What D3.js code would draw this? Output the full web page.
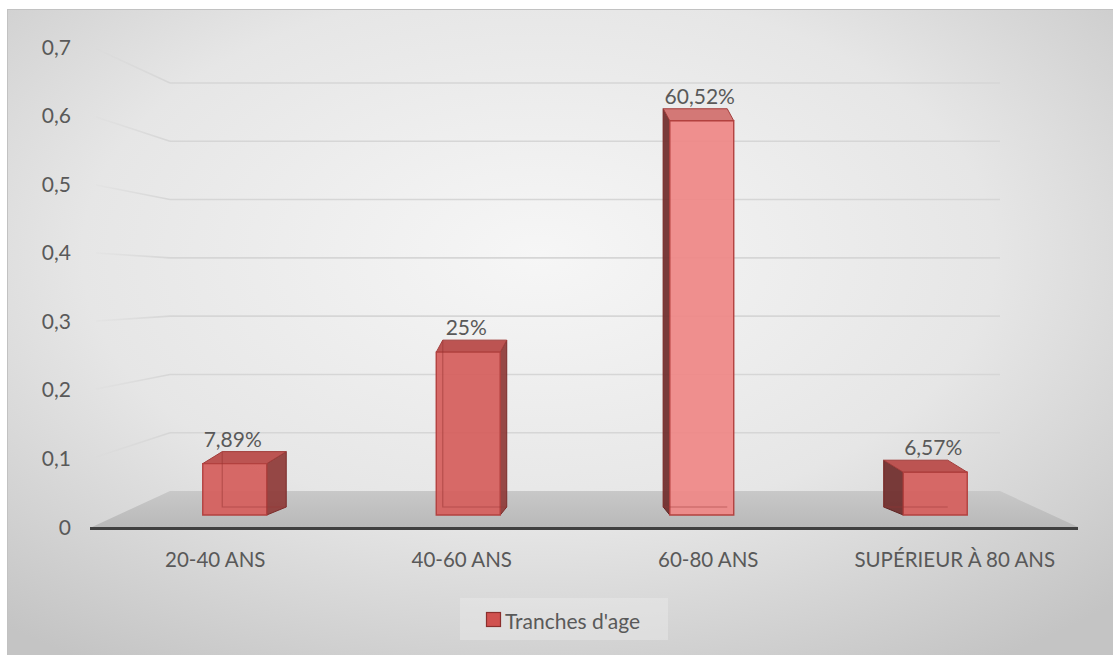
<!DOCTYPE html>
<html>
<head>
<meta charset="utf-8">
<script src="https://cdn.jsdelivr.net/npm/d3@7"></script>
<style>
  html, body { margin: 0; padding: 0; background: #ffffff; }
  svg { display: block; font-family: Lato, "Open Sans", sans-serif; }
</style>
</head>
<body>
<svg id="chart" width="1113" height="655"></svg>
<script>
// ---- data ----
const categories = ["20-40 ANS", "40-60 ANS", "60-80 ANS", "SUPÉRIEUR À 80 ANS"];
const values = [0.0789, 0.25, 0.6052, 0.0657];
const yTicks = [0, 0.1, 0.2, 0.3, 0.4, 0.5, 0.6, 0.7];
const seriesName = "Tranches d'age";

// ---- setup ----
const svg = d3.select("#chart");
const W = 1113, H = 655;
const fr = d3.formatLocale({decimal: ",", thousands: " ", grouping: [3], currency: ["", " €"]});
const fmtTick = fr.format(".1~f");
const fmtPct = fr.format(".2~%");

const defs = svg.append("defs");
const bg = defs.append("radialGradient").attr("id", "bg")
  .attr("cx", "48%").attr("cy", "38%").attr("r", "75%");
bg.append("stop").attr("offset", "0%").attr("stop-color", "#f6f6f6");
bg.append("stop").attr("offset", "55%").attr("stop-color", "#e6e6e6");
bg.append("stop").attr("offset", "100%").attr("stop-color", "#c4c4c4");

const floorGrad = defs.append("linearGradient").attr("id", "floorG")
  .attr("x1", 0).attr("y1", 0).attr("x2", 0).attr("y2", 1);
floorGrad.append("stop").attr("offset", "0%").attr("stop-color", "#c8c8c8");
floorGrad.append("stop").attr("offset", "100%").attr("stop-color", "#b9b9b9");

const sideGrad = defs.append("linearGradient").attr("id", "sideG")
  .attr("gradientUnits", "userSpaceOnUse")
  .attr("x1", 92).attr("y1", 0).attr("x2", 170).attr("y2", 0);
sideGrad.append("stop").attr("offset", "0%").attr("stop-color", "#d6d6d6").attr("stop-opacity", 0.1);
sideGrad.append("stop").attr("offset", "100%").attr("stop-color", "#d6d6d6").attr("stop-opacity", 1);

// chart area
svg.append("rect").attr("x", 7.5).attr("y", 9.5).attr("width", W - 7).attr("height", H - 9)
  .attr("fill", "url(#bg)").attr("stroke", "#c2c2c2").attr("stroke-width", 1);

// ---- 3D projection built from scales ----
const maxV = 0.7;
const xFront = d3.scaleLinear().domain([0, 1]).range([92, 1078]);
const xBack  = d3.scaleLinear().domain([0, 1]).range([170, 1000]);
const yFront = d3.scaleLinear().domain([0, maxV]).range([527, 47]);
const yBack  = d3.scaleLinear().domain([0, maxV]).range([491, 83]);
function P(u, v, z) {
  return [xFront(u) * (1 - z) + xBack(u) * z, yFront(v) * (1 - z) + yBack(v) * z];
}
const band = d3.scaleBand().domain(categories).range([0, 1]).paddingInner(0.726).paddingOuter(0.363);
const catPos = d3.scaleBand().domain(categories).range([0, 1]);

// ---- walls / gridlines ----
const grid = svg.append("g");
yTicks.filter(v => v > 0).forEach(v => {
  const a = P(0, v, 1), b = P(1, v, 1), f = P(0, v, 0);
  grid.append("line").attr("x1", a[0]).attr("y1", a[1]).attr("x2", b[0]).attr("y2", b[1])
    .attr("stroke", "#d6d6d6").attr("stroke-width", 1.6);
  grid.append("line").attr("x1", f[0] + 4).attr("y1", f[1] + (a[1] - f[1]) * 4 / (a[0] - f[0])).attr("x2", a[0]).attr("y2", a[1])
    .attr("stroke", "url(#sideG)").attr("stroke-width", 1.6);
});

// floor
const floorPts = [P(0, 0, 0), P(1, 0, 0), P(1, 0, 1), P(0, 0, 1)];
svg.append("path").attr("d", "M" + floorPts.map(p => p.join(",")).join("L") + "Z")
  .attr("fill", "url(#floorG)");
svg.append("line")
  .attr("x1", P(0, 0, 0)[0] - 2).attr("y1", P(0, 0, 0)[1] + 1.5)
  .attr("x2", P(1, 0, 0)[0]).attr("y2", P(1, 0, 0)[1] + 1.5)
  .attr("stroke", "#404040").attr("stroke-width", 3);

// ---- bars ----
const z0 = 1 / 3, z1 = 2 / 3;
const dyTop = -12, dyBottom = -8;
const frontColor = d3.scaleLinear().domain([0.3, 0.6]).range(["#d55f5d", "#ef8886"]).clamp(true);
const barsG = svg.append("g");
const poly = pts => "M" + pts.map(p => p[0].toFixed(2) + "," + p[1].toFixed(2)).join("L") + "Z";

categories.forEach((c, i) => {
  const v = values[i];
  const uL = band(c), uR = band(c) + band.bandwidth();
  const bl = P(uL, 0, z0), br = P(uR, 0, z0);
  const yTopF = P(uL, v, z0)[1];
  const fl = [bl[0], yTopF], frT = [br[0], yTopF];
  const dx = P((uL + uR) / 2, 0, z1)[0] - P((uL + uR) / 2, 0, z0)[0];
  const bBL = [bl[0] + dx, bl[1] + dyBottom], bBR = [br[0] + dx, br[1] + dyBottom];
  const bTL = [fl[0] + dx, fl[1] + dyTop], bTR = [frT[0] + dx, frT[1] + dyTop];
  const g = barsG.append("g");
  // side face
  if (dx > 0) {
    g.append("path").attr("d", poly([frT, br, bBR, bTR])).attr("fill", "#8e3937").attr("fill-opacity", 0.92)
      .attr("stroke", "#7a2c2a").attr("stroke-width", 1);
  } else {
    g.append("path").attr("d", poly([fl, bl, bBL, bTL])).attr("fill", "#6f2b2a").attr("fill-opacity", 0.92)
      .attr("stroke", "#5e2423").attr("stroke-width", 1);
  }
  // top face
  g.append("path").attr("d", poly([fl, frT, bTR, bTL])).attr("fill", d3.color(frontColor(v)).darker(0.35))
    .attr("stroke", "#a23e3c").attr("stroke-width", 1);
  // front face
  g.append("path").attr("d", poly([fl, frT, br, bl])).attr("fill", frontColor(v)).attr("fill-opacity", 0.93)
    .attr("stroke", "#b2413f").attr("stroke-width", 1.4);
  // hidden back edges seen through the translucent faces
  g.append("path").attr("d", "M" + bTL.join(",") + "L" + bBL.join(",") + "L" + bBR.join(","))
    .attr("fill", "none").attr("stroke", "#9a3634").attr("stroke-opacity", 0.5).attr("stroke-width", 1.2);
  // label
  svg.append("text").attr("x", (bl[0] + br[0]) / 2 - 2).attr("y", yTopF - 17)
    .attr("text-anchor", "middle").attr("font-size", 21).attr("fill", "#595959")
    .text(fmtPct(v));
});

// ---- axis labels ----
yTicks.forEach(v => {
  svg.append("text").attr("x", 71).attr("y", P(0, v, 0)[1]).attr("dy", "0.36em")
    .attr("text-anchor", "end").attr("font-size", 21).attr("fill", "#595959").text(fmtTick(v));
});
categories.forEach(c => {
  const u = catPos(c) + catPos.bandwidth() / 2;
  svg.append("text").attr("x", xFront(u)).attr("y", 567)
    .attr("text-anchor", "middle").attr("font-size", 20.5).attr("fill", "#595959").text(c);
});

// ---- legend ----
const lg = svg.append("g");
lg.append("rect").attr("x", 460).attr("y", 598).attr("width", 208).attr("height", 42)
  .attr("fill", "#ececec").attr("fill-opacity", 0.45);
lg.append("rect").attr("x", 486.5).attr("y", 612.5).attr("width", 14).attr("height", 14)
  .attr("fill", "#d0514f").attr("stroke", "#8b2f2d").attr("stroke-width", 1.2);
lg.append("text").attr("x", 505).attr("y", 627).attr("dy", "0.1em").attr("font-size", 21).attr("fill", "#595959")
  .text(seriesName);
</script>
</body>
</html>
